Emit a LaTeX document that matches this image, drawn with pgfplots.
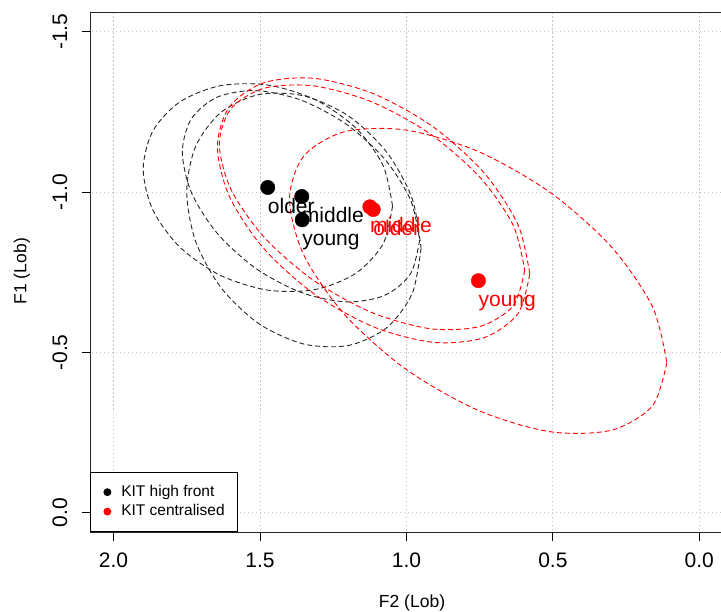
\documentclass[border=0pt]{standalone}
\usepackage{fontspec}
\setmainfont{Liberation Sans}
\usepackage{pgfplots}
\pgfplotsset{compat=1.18}

\newcommand{\tickfont}{\fontsize{21}{24}\selectfont}
\newcommand{\labfont}{\fontsize{17.5}{20}\selectfont}
\newcommand{\ptfont}{\fontsize{21}{24}\selectfont}
\newcommand{\legfont}{\fontsize{15.5}{18}\selectfont}

\pgfplotsset{
  ell/.style={smooth, line width=0.9pt, dash pattern=on 5pt off 3pt, forget plot},
  lab/.style={draw=none, mark=none, forget plot, point meta=explicit symbolic,
    nodes near coords,
    every node near coord/.style={anchor=base west, inner sep=0pt, yshift=-26pt,
      font=\ptfont, text=#1}},
}

\begin{document}
\begin{tikzpicture}
\begin{axis}[
  at={(90.1pt,80pt)}, anchor=south west,
  scale only axis, width=635pt, height=519.5pt,
  x dir=reverse, y dir=reverse,
  xmin=-0.088, xmax=2.08, ymin=-1.56, ymax=0.06,
  xtick={0,0.5,1,1.5,2}, xticklabels={0.0,0.5,1.0,1.5,2.0},
  ytick={-1.5,-1,-0.5,0}, yticklabels={-1.5,-1.0,-0.5,0.0},
  tick pos=left, tick align=outside, major tick length=8.5pt,
  tick style={black, line width=0.8pt},
  axis line style={black!85, line width=1pt},
  grid=major,
  major grid style={gray!45, line width=0.8pt, dash pattern=on 1.5pt off 2.5pt},
  ticklabel style={font=\tickfont},
  xticklabel style={anchor=north, inner sep=0pt},
  yticklabel style={rotate=90, anchor=south, inner sep=0pt},
  xticklabel shift=12pt, yticklabel shift=14pt,
  xlabel={F2 (Lob)}, ylabel={F1 (Lob)},
  label style={font=\labfont},
  xlabel style={at={(axis description cs:0.507,-0.1367)}, anchor=center},
  ylabel style={at={(axis description cs:-0.1075,0.502)}, anchor=center},
  legend style={at={(axis description cs:0,0)}, anchor=south west,
    draw=black, line width=0.8pt, fill=white, font=\legfont,
    inner xsep=13pt, inner ysep=12.5pt, row sep=4.4pt, column sep=10pt,
    nodes={inner sep=0pt, text height=11.5pt, text depth=3.5pt}},
  legend cell align=left,
]

% --- KIT high front: ellipses for older, middle, young
\addplot[ell, black!85] coordinates {
 (1.0474,-0.9563) (1.0798,-0.8383) (1.1721,-0.7471) (1.3101,-0.6964)
 (1.4730,-0.6942) (1.6359,-0.7406) (1.7739,-0.8287) (1.8662,-0.9449)
 (1.8986,-1.0717) (1.8662,-1.1897) (1.7739,-1.2809) (1.6359,-1.3316)
 (1.4730,-1.3338) (1.3101,-1.2874) (1.1721,-1.1993) (1.0798,-1.0831)
 (1.0474,-0.9563)};
\addplot[ell, black!85] coordinates {
 (0.9549,-0.8499) (0.9857,-0.7456) (1.0736,-0.6781) (1.2050,-0.6575)
 (1.3600,-0.6872) (1.5150,-0.7625) (1.6464,-0.8719) (1.7343,-0.9990)
 (1.7651,-1.1241) (1.7343,-1.2284) (1.6464,-1.2959) (1.5150,-1.3165)
 (1.3600,-1.2868) (1.2050,-1.2115) (1.0736,-1.1021) (0.9857,-0.9750)
 (0.9549,-0.8499)};
\addplot[ell, black!85] coordinates {
 (0.9500,-0.8249) (0.9804,-0.6835) (1.0672,-0.5771) (1.1969,-0.5218)
 (1.3500,-0.5261) (1.5031,-0.5892) (1.6328,-0.7017) (1.7196,-0.8463)
 (1.7500,-1.0011) (1.7196,-1.1425) (1.6328,-1.2489) (1.5031,-1.3042)
 (1.3500,-1.2999) (1.1969,-1.2368) (1.0672,-1.1243) (0.9804,-0.9797)
 (0.9500,-0.8249)};

% --- KIT centralised: ellipses for older, middle, young
\addplot[ell, red] coordinates {
 (0.5788,-0.7448) (0.6194,-0.6208) (0.7350,-0.5459) (0.9080,-0.5314)
 (1.1121,-0.5796) (1.3162,-0.6832) (1.4892,-0.8263) (1.6048,-0.9872)
 (1.6454,-1.1414) (1.6048,-1.2654) (1.4892,-1.3403) (1.3162,-1.3548)
 (1.1121,-1.3066) (0.9080,-1.2030) (0.7350,-1.0599) (0.6194,-0.8990)
 (0.5788,-0.7448)};
\addplot[ell, red] coordinates {
 (0.5959,-0.7558) (0.6356,-0.6451) (0.7486,-0.5812) (0.9178,-0.5738)
 (1.1173,-0.6241) (1.3168,-0.7244) (1.4860,-0.8594) (1.5990,-1.0085)
 (1.6387,-1.1492) (1.5990,-1.2599) (1.4860,-1.3238) (1.3168,-1.3312)
 (1.1173,-1.2809) (0.9178,-1.1806) (0.7486,-1.0456) (0.6356,-0.8965)
 (0.5959,-0.7558)};
\addplot[ell, red] coordinates {
 (0.1109,-0.4686) (0.1599,-0.3335) (0.2996,-0.2576) (0.5085,-0.2526)
 (0.7550,-0.3193) (1.0015,-0.4474) (1.2104,-0.6174) (1.3501,-0.8035)
 (1.3991,-0.9774) (1.3501,-1.1125) (1.2104,-1.1884) (1.0015,-1.1934)
 (0.7550,-1.1267) (0.5085,-0.9986) (0.2996,-0.8286) (0.1599,-0.6425)
 (0.1109,-0.4686)};

% --- group labels
\addplot[lab=black] coordinates {
 (1.4735,-1.0144) [older] (1.3573,-0.9862) [middle] (1.3559,-0.9134) [young]};
\addplot[lab=red] coordinates {
 (1.1132,-0.9456) [older] (1.1248,-0.9541) [middle] (0.7542,-0.7237) [young]};

% --- group means
\addplot[only marks, mark=*, mark size=7.2pt, black, forget plot] coordinates {
 (1.4735,-1.0144) (1.3573,-0.9862) (1.3559,-0.9134)};
\addplot[only marks, mark=*, mark size=7.2pt, red, forget plot] coordinates {
 (1.1132,-0.9456) (1.1248,-0.9541) (0.7542,-0.7237)};

\addlegendimage{legend image code/.code={\fill[black] (0pt,0pt) circle (3.5pt);}}
\addlegendentry{KIT high front}
\addlegendimage{legend image code/.code={\fill[red] (0pt,0pt) circle (3.5pt);}}
\addlegendentry{KIT centralised}
\end{axis}
\pgfresetboundingbox
\useasboundingbox (0pt,0pt) rectangle (721pt,612pt);
\end{tikzpicture}
\end{document}
